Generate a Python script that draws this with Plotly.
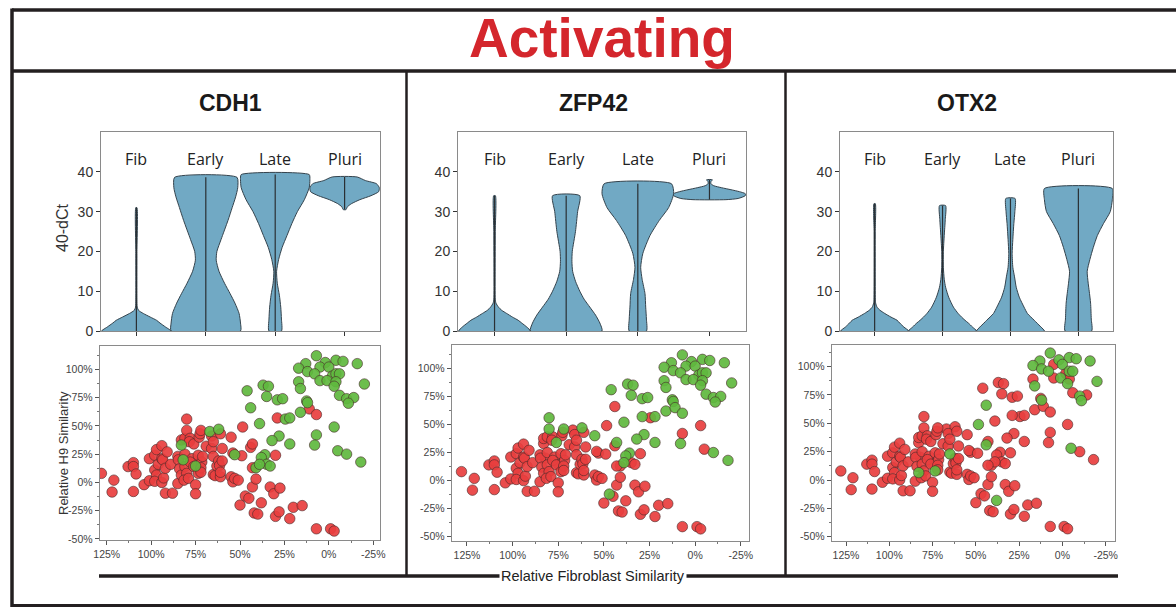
import plotly.graph_objects as go

W, H = 1176, 607

# ------------------------------------------------------------------ data
GENES = ["CDH1", "ZFP42", "OTX2"]
STAGES = ["Fib", "Early", "Late", "Pluri"]

# violin outlines: 40-dCt levels and half widths (category units)
CDH1_FIB_Y = [0, 1, 2, 2.7, 3.5, 4.4, 5.2, 6, 8, 20, 31]
CDH1_FIB_W = [0.5, 0.42, 0.34, 0.29, 0.2, 0.1, 0.03, 0.012, 0.008, 0.008, 0.008]
CDH1_EARLY_Y = [0, 2, 4.4, 7, 9.4, 12, 15, 17.8, 20, 23, 27.8, 31, 33.7, 36, 38.6]
CDH1_EARLY_W = [0.5, 0.5, 0.48, 0.42, 0.35, 0.27, 0.19, 0.15, 0.16, 0.22, 0.32, 0.38, 0.43, 0.46, 0.45]
CDH1_LATE_Y = [0, 3, 6, 9, 12, 15, 18, 21, 24, 27, 30, 33, 36, 38, 39.3]
CDH1_LATE_W = [0.09, 0.09, 0.08, 0.06, 0.03, 0.02, 0.05, 0.1, 0.17, 0.24, 0.32, 0.42, 0.49, 0.5, 0.49]
CDH1_PLURI_Y = [30.5, 31.2, 32, 33, 34, 35, 36, 37, 37.8, 38.7]
CDH1_PLURI_W = [0.02, 0.04, 0.1, 0.22, 0.38, 0.49, 0.5, 0.46, 0.3, 0.18]

ZFP42_FIB_Y = [0, 1, 2, 2.7, 3.5, 4.4, 5.2, 6, 7, 8, 15, 25, 34]
ZFP42_FIB_W = [0.5, 0.45, 0.38, 0.33, 0.25, 0.17, 0.1, 0.055, 0.02, 0.01, 0.008, 0.01, 0.012]
ZFP42_EARLY_Y = [0, 2, 4, 6, 8, 10, 12.5, 15, 17.5, 20, 25, 30, 34]
ZFP42_EARLY_W = [0.5, 0.47, 0.41, 0.33, 0.25, 0.19, 0.13, 0.09, 0.08, 0.085, 0.13, 0.16, 0.19]
ZFP42_LATE_Y = [0, 3, 6, 9.4, 13, 16, 19.5, 24, 27.8, 31, 34.5, 37]
ZFP42_LATE_W = [0.12, 0.12, 0.11, 0.1, 0.06, 0.04, 0.07, 0.17, 0.3, 0.43, 0.5, 0.47]
ZFP42_PLURI_Y = [33, 33.3, 34, 34.5, 35, 35.5, 36, 36.5, 37, 37.5, 38]
ZFP42_PLURI_W = [0.23, 0.4, 0.5, 0.5, 0.42, 0.3, 0.17, 0.06, 0.02, 0.02, 0.04]

OTX2_FIB_Y = [0, 1, 2, 2.7, 3.5, 4.4, 5.2, 6, 7, 8, 15, 25, 32]
OTX2_FIB_W = [0.5, 0.43, 0.37, 0.33, 0.24, 0.15, 0.08, 0.035, 0.015, 0.01, 0.008, 0.008, 0.01]
OTX2_EARLY_Y = [0, 1, 2, 2.7, 3.5, 4.4, 6, 8.5, 11, 13, 16, 20, 24, 28, 31.5]
OTX2_EARLY_W = [0.5, 0.44, 0.38, 0.33, 0.28, 0.23, 0.16, 0.09, 0.045, 0.025, 0.012, 0.012, 0.025, 0.04, 0.045]
OTX2_LATE_Y = [0, 1, 2, 2.7, 4.4, 6, 8.5, 11, 13.6, 16, 19.5, 23, 27, 30, 33.3]
OTX2_LATE_W = [0.5, 0.45, 0.39, 0.35, 0.25, 0.2, 0.13, 0.085, 0.06, 0.035, 0.025, 0.035, 0.05, 0.065, 0.068]
OTX2_PLURI_Y = [0, 3, 7, 10, 12, 15, 18, 21, 24, 27, 30, 33, 35.8]
OTX2_PLURI_W = [0.195, 0.19, 0.18, 0.16, 0.145, 0.13, 0.17, 0.22, 0.28, 0.37, 0.47, 0.5, 0.5]

VIOLINS = {
    "CDH1": [(CDH1_FIB_Y, CDH1_FIB_W), (CDH1_EARLY_Y, CDH1_EARLY_W),
             (CDH1_LATE_Y, CDH1_LATE_W), (CDH1_PLURI_Y, CDH1_PLURI_W)],
    "ZFP42": [(ZFP42_FIB_Y, ZFP42_FIB_W), (ZFP42_EARLY_Y, ZFP42_EARLY_W),
              (ZFP42_LATE_Y, ZFP42_LATE_W), (ZFP42_PLURI_Y, ZFP42_PLURI_W)],
    "OTX2": [(OTX2_FIB_Y, OTX2_FIB_W), (OTX2_EARLY_Y, OTX2_EARLY_W),
             (OTX2_LATE_Y, OTX2_LATE_W), (OTX2_PLURI_Y, OTX2_PLURI_W)],
}

# single cells: relative fibroblast similarity (%) and relative H9 similarity (%)
FIB_SIM = [
    7, 13, 2, -4, -8, -16, 17, 5, 0, 12,
    8, -2, -4, -6, 5, 1, -4, -3, -20, 17,
    16, 37, 34, 46, 35, 29, 26, 44, 12.5, 12,
    -6, -10, -14, -11, 16, 24.5, 22, 39, -3, 7,
    8, 28, 32, 22, -5, -10, -18, 36, 38, 35,
    33, 41, 39, 83, 67, 62, 82, 75, 53, 128,
    121, 122, 113, 110, 110, 108.5, 110, 104, 101, 101,
    98, 98, 97, 94, 97, 98, 96, 94, 93.5, 94,
    93, 92, 91, 92, 88, 89, 85, 84.7, 84, 85,
    83, 83, 81, 80, 80, 81, 81, 80, 81.5, 79,
    78, 78.5, 76, 77, 78, 76, 75, 75, 73.5, 73.5,
    73, 72.5, 72, 71.5, 72, 72, 71, 69, 66, 66,
    65, 65, 65, 64, 63, 62, 61.5, 61, 61, 61,
    60, 60, 55, 54, 55, 54, 53, 51, 49, 48.5,
    50, 47, 45, 44, 43, 43, 43, 42, 40, 41,
    38, 33, 31, 30, 28, 30, 29, 27.5, 22, 20,
    15, 11, 7, 7, -1, -3,
]
H9_SIM = [
    112, 105, 106, 108, 107, 105, 101, 102, 102, 98,
    96, 94, 96, 96, 90, 90, 89, 85, 87, 89,
    83, 86, 85, 81, 76, 73, 74, 66, 72, 70.5,
    77, 74, 75, 70, 62, 56, 57, 52, 49, 42,
    33, 41, 37, 34, 28, 25, 18, 24.5, 22, 16,
    14.5, 13, 16, 33, 45, 47, 20, 14.5, 24.5, 8,
    2, -8.5, 14, 17.5, 14, 7.5, -8, -2, 21, 1.5,
    11, 24, 29, 32.5, 6.5, 1, 16, 21, 20, 0,
    4, 12.5, 27, -9.5, -9.5, 16, 23, 20, 12, -1,
    6.5, 37.5, 39, 46, 56, 25, 14, 8, 2, 3.6,
    39, 36, 34, 21, 18, 14, -2, -10, 24, 8,
    40, 43, 46, 18, 13, 9, 23, 32, 41, 30,
    36, 23, 7, 6, 14.5, 19, 15, 5, 9, 43,
    30, 19, 40, 26, 5, 0.5, 3.6, 2, 23.6, 49,
    -20, -12, -14, 31, 34, 13, -4, -27, -28, 3,
    -18, -4, -10, -30, -26, 24, 57, -5, -32, -22,
    -20.5, 65, 60, -41, -41, -43,
]
# expression call per cell for each gene: g = expressed (green), r = not (red)
CDH1_CALL = ("gggggggggg" "gggggggggg" "gggggggggg" "gggggggggg" "gggggggggg"
             "gggggggggr" "rrrrrrrrrr" "rrrrrrrrrr" "rrrrrrrrrr" "rrrrrrrrrr"
             "rrrrrrrrrr" "rrrrrrrrrr" "rrrrrrrrrr" "rrrrrrrrrr" "rrrrrrrrrr"
             "rrrrrrrrrr" "rrrrrr")
ZFP42_CALL = ("gggggggggg" "gggggggggg" "gggggggrgg" "gggggrggrr" "ggggrggggr"
              "rrgrrgrrrr" "rrrrrrrrrr" "rrrrrrrrrr" "rrrrrrrrrr" "rrrggrrrrr"
              "rrgrrrrrrr" "rrgrrrrrrr" "rrrrrrrrrr" "rrgrrrrrrr" "rgrrgrrrrr"
              "rrrrrrgrrr" "rggrrr")
OTX2_CALL = ("gggggggrgg" "grggrgrggr" "grrrrrrgrg" "rgrgrrrrrr" "rrrrgrrrrr"
             "rrrrrrrrrr" "rrrrrrrrrr" "rrrrrrrrrr" "rrrrrrrrrr" "grrrrrrrrr"
             "rrrrrrrrrg" "rrrrrrrrrr" "rgrrrrrrrr" "rrrrrrrrrg" "rrrgrrrrrr"
             "grrrrrrrrr" "rrrrrr")
CALLS = {"CDH1": CDH1_CALL, "ZFP42": ZFP42_CALL, "OTX2": OTX2_CALL}

VIOLIN_TICKS = [0, 10, 20, 30, 40]
SCATTER_TICKS = [125, 100, 75, 50, 25, 0, -25]
SCATTER_YTICKS = [100, 75, 50, 25, 0, -25, -50]

# ------------------------------------------------------------------ layout helpers
def fx(p):
    return p / W


def fy(p):
    return 1 - p / H


FONT = "Arial, Liberation Sans, sans-serif"
VIOLIN_FILL = "#71a9c4"
VIOLIN_EDGE = "#34434d"
RED = "rgba(232,62,62,0.92)"
GREEN = "rgba(96,184,62,0.92)"

# pixel boxes of panels (left, right, top, bottom)
VBOX = [(101, 380, 132, 331), (458, 746, 132, 331), (840, 1113, 132, 331)]
SBOX = [(100, 380, 346, 540), (452, 749, 345, 541), (832, 1115, 345, 541)]
SX_RANGE = [[128.8, -28.8], [133.2, -29.5], [133.1, -30.4]]
SY_RANGE = [[-50.9, 120.6], [-53.8, 120.8], [-53.8, 119.1]]
TITLE_X = [230, 594, 967]


def paper_text(x, y, text, size, color="#222", family=FONT, **kw):
    return dict(x=fx(x), y=fy(y), xref="paper", yref="paper", text=text,
                xanchor="center", yanchor="middle", showarrow=False,
                font=dict(family=family, size=size, color=color), **kw)


fig = go.Figure()
layout = {}
annotations = []

for i, gene in enumerate(GENES):
    vx = "x" if i == 0 else f"x{i + 1}"
    vy = "y" if i == 0 else f"y{i + 1}"
    sx = f"x{i + 4}"
    sy = f"y{i + 4}"

    # ---- violins
    for k, (ys, ws) in enumerate(VIOLINS[gene]):
        xs = [k + w for w in ws] + [k - w for w in reversed(ws)] + [k + ws[0]]
        yy = list(ys) + list(reversed(ys)) + [ys[0]]
        fig.add_trace(go.Scatter(
            x=xs, y=yy, mode="lines", fill="toself", fillcolor=VIOLIN_FILL,
            line=dict(color=VIOLIN_EDGE, width=1, shape="spline", smoothing=0.6),
            xaxis=vx, yaxis=vy, showlegend=False, hoverinfo="skip"))
        fig.add_trace(go.Scatter(
            x=[k, k], y=[min(ys), max(ys)], mode="lines",
            line=dict(color="#2a2f33", width=1.2),
            xaxis=vx, yaxis=vy, showlegend=False, hoverinfo="skip"))
        annotations.append(dict(
            x=k, y=43.2, xref=vx, yref=vy, text=STAGES[k], showarrow=False,
            xanchor="center", yanchor="middle",
            font=dict(family="Open Sans, Noto Sans, sans-serif", size=16, color="#222")))

    l, r, t, b = VBOX[i]
    dom_x = [fx(l), fx(r)]
    dom_y = [fy(b), fy(t)]
    ax_common = dict(showgrid=False, zeroline=False, linecolor="#8a8a8a", linewidth=1,
                     tickcolor="#333", ticklen=4, tickwidth=1, automargin=False)
    layout["xaxis" if i == 0 else f"xaxis{i + 1}"] = dict(
        domain=dom_x, anchor=vy, range=[-0.51, 3.51], tickvals=[0, 1, 2, 3],
        showticklabels=False, ticks="outside", mirror=True, showline=True, **ax_common)
    layout["yaxis" if i == 0 else f"yaxis{i + 1}"] = dict(
        domain=dom_y, anchor=vx, range=[0, 50], tickvals=VIOLIN_TICKS,
        ticks="outside", mirror=True, showline=True,
        tickfont=dict(family=FONT, size=14, color="#333"), **ax_common)
    # inward ticks on the top / right frame
    layout[f"xaxis{i + 7}"] = dict(
        overlaying=vx, side="top", anchor=vy, range=[-0.51, 3.51], tickvals=[0, 1, 2, 3],
        showticklabels=False, ticks="inside", showline=False, **ax_common)
    layout[f"yaxis{i + 7}"] = dict(
        overlaying=vy, side="right", anchor=vx, range=[0, 50], tickvals=VIOLIN_TICKS,
        showticklabels=False, ticks="inside", showline=False, **ax_common)

    # ---- scatter
    calls = CALLS[gene]
    for code, col in (("r", RED), ("g", GREEN)):
        xs = [FIB_SIM[j] for j in range(len(FIB_SIM)) if calls[j] == code]
        ys = [H9_SIM[j] for j in range(len(H9_SIM)) if calls[j] == code]
        fig.add_trace(go.Scatter(
            x=xs, y=ys, mode="markers", xaxis=sx, yaxis=sy, showlegend=False,
            marker=dict(size=10.5, color=col, line=dict(color="rgba(70,40,40,0.75)", width=0.8))))

    l, r, t, b = SBOX[i]
    s_common = dict(showgrid=False, zeroline=False, linecolor="#8a8a8a", linewidth=1.3,
                    showline=True, mirror=True, ticks="outside", ticklen=4,
                    tickcolor="#555", tickwidth=1, automargin=False,
                    tickfont=dict(family="Liberation Sans Narrow, Arial Narrow, Arial", size=10.5,
                                  color="#444"),
                    minor=dict(ticks="outside", ticklen=2, tickcolor="#777", dtick=12.5))
    layout[f"xaxis{i + 4}"] = dict(
        domain=[fx(l), fx(r)], anchor=sy, range=SX_RANGE[i], tickvals=SCATTER_TICKS,
        ticktext=[f"{v}%" for v in SCATTER_TICKS], **s_common)
    layout[f"yaxis{i + 4}"] = dict(
        domain=[fy(b), fy(t)], anchor=sx, range=SY_RANGE[i], tickvals=SCATTER_YTICKS,
        ticktext=[f"{v}%" for v in SCATTER_YTICKS], **s_common)

    annotations.append(paper_text(TITLE_X[i], 103, f"<b>{gene}</b>", 23, "#1a1a1a"))

annotations += [
    paper_text(602, 38, "<b>Activating</b>", 55, "#d4262c"),
    paper_text(62, 228, "40-dCt", 16, "#333", textangle=-90),
    paper_text(63, 453, "Relative H9 Similarity", 13, "#333", textangle=-90),
]

# frame lines
LINE = "#231f20"


def pline(x0, y0, x1, y1, width):
    return dict(type="line", xref="paper", yref="paper",
                x0=fx(x0), x1=fx(x1), y0=fy(y0), y1=fy(y1),
                line=dict(color=LINE, width=width))


shapes = [
    pline(12, 10, 1180, 10, 3.5),
    pline(12, 71, 1180, 71, 3.5),
    pline(12, 8.5, 12, 608, 3.5),
    pline(12, 605.5, 1180, 605.5, 3),
    pline(406.5, 71, 406.5, 575, 2.5),
    pline(785.5, 71, 785.5, 575, 2.5),
    pline(99, 576, 1118, 576, 3.5),
]
annotations.append(paper_text(593, 576, "Relative Fibroblast Similarity", 14.5, "#222",
                              bgcolor="white", borderpad=1))

fig.update_layout(
    width=W, height=H, margin=dict(l=0, r=0, t=0, b=0, pad=0, autoexpand=False),
    paper_bgcolor="white", plot_bgcolor="white",
    annotations=annotations, shapes=shapes, showlegend=False,
    **layout)

fig.write_html(
    "out.html",
    config={"displayModeBar": False, "staticPlot": True},
    post_script=(
        "var gd = document.getElementById('{plot_id}');"
        "gd.style.position='fixed'; gd.style.left='0px'; gd.style.top='0px';"
        "document.body.style.margin='0px';"
        "document.documentElement.style.overflow='hidden';"
    ))
